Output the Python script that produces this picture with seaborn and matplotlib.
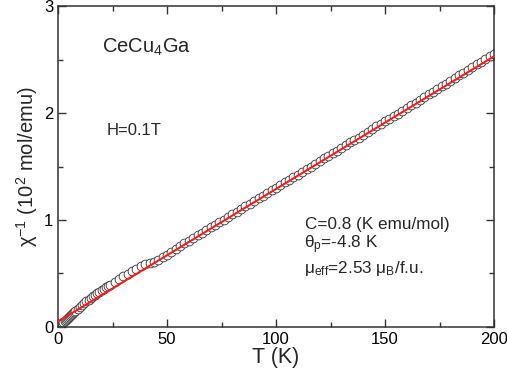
import pandas as pd
import seaborn as sns
import matplotlib
matplotlib.use("Agg")
import matplotlib.pyplot as plt
from matplotlib.ticker import MultipleLocator

T_data = [0.5, 1, 1.5, 2, 2.5, 3, 3.5, 4, 4.5, 5, 5.5, 6, 6.5, 7, 7.5, 8,
          9, 10, 11, 12, 13, 14, 15, 16, 17, 18, 19, 20, 21, 22, 23, 24,
          26, 28, 30, 32, 34, 36, 38, 40, 42, 44, 46, 48, 50,
          52, 54, 56, 58, 60, 62, 64, 66, 68, 70, 72, 74, 76, 78, 80,
          82, 84, 86, 88, 90, 92, 94, 96, 98, 100, 102, 104, 106, 108, 110,
          112, 114, 116, 118, 120, 122, 124, 126, 128, 130, 132, 134, 136, 138, 140,
          142, 144, 146, 148, 150, 152, 154, 156, 158, 160, 162, 164, 166, 168, 170,
          172, 174, 176, 178, 180, 182, 184, 186, 188, 190, 192, 194, 196, 198, 200]
chi_inv = [0.005, 0.015, 0.025, 0.035, 0.045, 0.055, 0.065, 0.075, 0.085, 0.095, 0.105, 0.115, 0.125, 0.133, 0.142, 0.150,
           0.168, 0.186, 0.204, 0.222, 0.240, 0.256, 0.271, 0.286, 0.300, 0.314, 0.328, 0.342, 0.356, 0.370, 0.383, 0.396,
           0.422, 0.447, 0.472, 0.497, 0.521, 0.545, 0.567, 0.588, 0.600, 0.610, 0.625, 0.650, 0.675,
           0.705, 0.732, 0.757, 0.782, 0.806, 0.831, 0.856, 0.880, 0.905, 0.930, 0.955, 0.980, 1.004, 1.029, 1.053,
           1.079, 1.104, 1.128, 1.152, 1.178, 1.203, 1.228, 1.252, 1.277, 1.302, 1.327, 1.352, 1.376, 1.400, 1.425,
           1.450, 1.476, 1.500, 1.525, 1.550, 1.575, 1.600, 1.624, 1.649, 1.674, 1.700, 1.725, 1.748, 1.770, 1.795,
           1.822, 1.850, 1.875, 1.900, 1.925, 1.945, 1.972, 1.995, 2.022, 2.050, 2.075, 2.098, 2.120, 2.148, 2.175,
           2.198, 2.222, 2.248, 2.274, 2.300, 2.326, 2.352, 2.378, 2.402, 2.428, 2.455, 2.480, 2.505, 2.530, 2.555]

# Curie-Weiss fit line (end points as drawn)
T_fit = [0, 200]
chi_fit = [0.05, 2.53]

x_ticks = [0, 50, 100, 150, 200]
y_ticks = [0, 1, 2, 3]

df = pd.DataFrame({"T": T_data, "chi": chi_inv})
fit = pd.DataFrame({"T": T_fit, "chi": chi_fit})

sns.set_style("ticks")
plt.rcParams['font.family'] = ['Liberation Sans', 'DejaVu Sans']
plt.rcParams['mathtext.fontset'] = 'custom'
plt.rcParams['mathtext.rm'] = 'Liberation Sans'
plt.rcParams['mathtext.it'] = 'Liberation Sans:italic'
plt.rcParams['mathtext.default'] = 'regular'

fig = plt.figure(figsize=(5.07, 3.78), dpi=100)
ax = fig.add_axes([0.1144, 0.135, 0.86, 0.849])

sns.scatterplot(data=df, x="T", y="chi", ax=ax, marker="o", s=40,
                facecolor="white", edgecolor="#333333", linewidth=0.6, zorder=2)
sns.lineplot(data=fit, x="T", y="chi", ax=ax, color="#ff1a1a", linewidth=1.5, zorder=3)

ax.set_xlim(0, 200)
ax.set_ylim(0, 3)
ax.set_xticks(x_ticks)
ax.set_yticks(y_ticks)
ax.xaxis.set_minor_locator(MultipleLocator(25))
ax.yaxis.set_minor_locator(MultipleLocator(0.5))
ax.tick_params(which="both", direction="in", top=True, right=True, colors="#333333",
               labelcolor="black", labelsize=12, width=1)
ax.tick_params(which="major", length=6)
ax.tick_params(which="minor", length=3.5)
for s in ax.spines.values():
    s.set_color("#333333")
    s.set_linewidth(1.1)

ax.set_xlabel("T (K)", fontsize=15.5, labelpad=0)
ax.set_ylabel("χ$^{-1}$ (10$^{2}$ mol/emu)", fontsize=14.5, labelpad=3)

ax.text(20, 2.61, "CeCu$_4$Ga", fontsize=14.5, va="center")
ax.text(22.5, 1.84, "H=0.1T", fontsize=12, va="center")
ax.text(113.5, 0.96, "C=0.8 (K emu/mol)", fontsize=12.3, va="center")
ax.text(113, 0.77, "θ$_{p}$=-4.8 K", fontsize=12.3, va="center")
ax.text(113, 0.55, "μ$_{eff}$=2.53 μ$_{B}$/f.u.", fontsize=12.3, va="center")

fig.savefig("out.png", dpi=100)
